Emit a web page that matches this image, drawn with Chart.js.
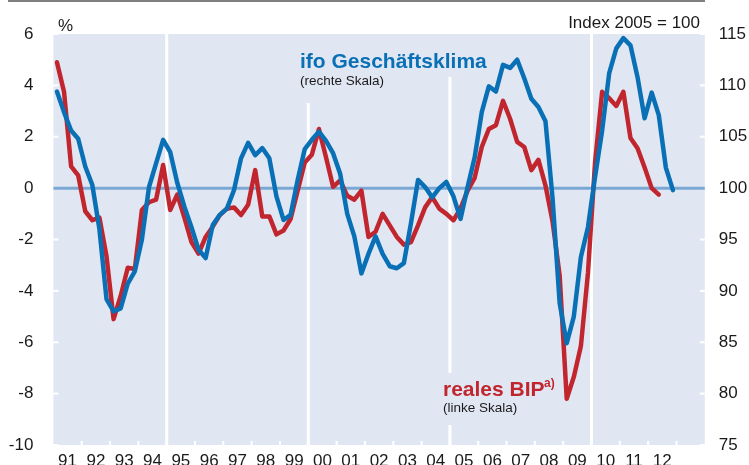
<!DOCTYPE html>
<html lang="de">
<head>
<meta charset="utf-8">
<title>ifo Geschäftsklima und reales BIP</title>
<script src="https://cdn.jsdelivr.net/npm/chart.js@4.4.1/dist/chart.umd.min.js"></script>
<style>
  html, body { margin: 0; padding: 0; background: #fff; }
  #box { width: 749px; height: 465px; }
</style>
</head>
<body>
<div id="box"><canvas id="grafik" width="749" height="465"></canvas></div>
<script>
// Beschriftung der x-Achse (Jahre)
const jahre = ["91", "92", "93", "94", "95", "96", "97", "98", "99", "00", "01",
               "02", "03", "04", "05", "06", "07", "08", "09", "10", "11", "12"];

// reales BIP, Veränderung ggü. Vorjahr in % (linke Skala), Quartale ab 1991 Q1
const bip = [
   4.9,  3.75,  0.85,  0.5,  -0.9, -1.25, -1.15, -2.65,
  -5.1, -4.2,  -3.1,  -3.15, -0.85, -0.55, -0.45,  0.9,
  -0.85, -0.25, -1.15, -2.1, -2.55, -1.9,  -1.5,  -1.05,
  -0.8, -0.75, -1.05, -0.65,  0.7, -1.1,  -1.1,  -1.8,
  -1.65, -1.2, -0.1,   1.0,   1.3,  2.3,   1.2,   0.05,
   0.3, -0.3,  -0.45, -0.1, -1.9, -1.7,  -1.0,  -1.45,
  -1.9, -2.2,  -2.1, -1.45, -0.75, -0.35, -0.8,  -1.0,
  -1.25, -0.8, -0.1,  0.4,   1.6,  2.3,   2.45,  3.4,
   2.7,  1.8,   1.6,  0.7,   1.1,  0.1,  -1.3,  -3.4,
  -8.2, -7.35, -6.15, -3.3,  1.0,  3.75,  3.5,   3.2,
   3.75, 1.95,  1.55, 0.8,   0.0, -0.25
];

// ifo Geschäftsklima, Index 2005 = 100 (rechte Skala), Quartale ab 1991 Q1
const ifo = [
  109.4, 107.4, 105.6, 104.8, 102.1, 100.3,  96.0,  89.2,
   88.0,  88.3,  90.7,  91.9,  95.0, 100.1, 102.4, 104.7,
  103.5, 100.5,  98.2,  96.2,  94.0,  93.2,  96.4,  97.4,
   98.0,  99.8, 102.9, 104.4, 103.2, 103.9, 102.9,  99.2,
   96.9,  97.4, 100.8, 103.8, 104.7, 105.5, 104.6, 103.4,
  101.4,  97.5,  95.3,  91.7,  93.6,  95.3,  93.6,  92.4,
   92.2,  92.7,  96.6, 100.8, 100.1,  99.1, 100.0, 100.6,
   99.2,  97.0, 100.1, 103.0, 107.4, 109.9, 109.4, 112.0,
  111.7, 112.5, 110.7, 108.7, 107.9, 106.5,  99.0,  88.8,
   84.9,  87.5,  93.3,  96.2, 101.1, 105.6, 111.2, 113.6,
  114.6, 113.9, 110.8, 106.8, 109.3, 107.1, 102.0,  99.8
];

const linksTicks = [-10, -8, -6, -4, -2, 0, 2, 4, 6];
const rechtsTicks = [75, 80, 85, 90, 95, 100, 105, 110, 115];
const trennJahre = [1995, 2000, 2005, 2010];

const blau = "#0a70b6";
const rot = "#c1262e";
const flaeche = "#e0e7f3";
const schrift = "'Liberation Sans', Arial, sans-serif";

// Quartalswerte auf die Zeitachse legen (Quartalsmitte)
function quartale(werte) {
  return werte.map((v, i) => ({ x: 1991 + (i + 0.5) / 4, y: v }));
}

// Achsen ohne zusätzliche Randabstände
function ohneRand(scale) {
  scale.paddingTop = 0;
  scale.paddingBottom = 0;
  scale.paddingLeft = 0;
  scale.paddingRight = 0;
}

// Hintergrund, weiße Linien und Striche, Nulllinie, Texte
const rahmen = {
  id: "rahmen",
  beforeDraw(chart) {
    const { ctx, chartArea: a, scales } = chart;
    ctx.save();
    ctx.fillStyle = "#7f7f7f";
    ctx.fillRect(8, 0, 697, 2);

    ctx.fillStyle = flaeche;
    ctx.fillRect(a.left, a.top, a.right - a.left, a.bottom - a.top);

    ctx.fillStyle = "#ffffff";
    for (let j = 1992; j < 2014; j++) {
      const px = scales.x.getPixelForValue(j);
      ctx.fillRect(px - 1, a.bottom - 4, 2, 4);
    }
    linksTicks.forEach(v => {
      const py = scales.y.getPixelForValue(v);
      ctx.fillRect(a.left, py - 1, 5, 2);
    });
    rechtsTicks.forEach(v => {
      const py = scales.y1.getPixelForValue(v);
      ctx.fillRect(a.right - 5, py - 1, 5, 2);
    });
    trennJahre.forEach(j => {
      const px = scales.x.getPixelForValue(j);
      ctx.fillRect(px - 1.5, a.top, 3, a.bottom - a.top);
    });

    // Freistellung hinter den Beschriftungen
    ctx.fillStyle = flaeche;
    ctx.fillRect(296, a.top, 196, 43);
    ctx.fillRect(296, a.top, 94, 69);
    ctx.fillRect(438, 373, 122, 52);
    ctx.restore();
  },
  beforeDatasetsDraw(chart) {
    const { ctx, chartArea: a, scales } = chart;
    const py = scales.y.getPixelForValue(0);
    ctx.save();
    ctx.strokeStyle = "#7ba7d3";
    ctx.lineWidth = 3;
    ctx.beginPath();
    ctx.moveTo(a.left, py);
    ctx.lineTo(a.right, py);
    ctx.stroke();
    ctx.restore();
  },
  afterDraw(chart) {
    const { ctx } = chart;
    ctx.save();
    ctx.textBaseline = "alphabetic";
    ctx.fillStyle = "#1a1a1a";
    ctx.font = "17px " + schrift;
    ctx.textAlign = "left";
    ctx.fillText("%", 58, 31);
    ctx.textAlign = "right";
    ctx.fillText("Index 2005 = 100", 700, 28);

    ctx.textAlign = "left";
    ctx.fillStyle = blau;
    ctx.font = "bold 21px " + schrift;
    ctx.fillText("ifo Geschäftsklima", 300, 68);
    ctx.fillStyle = "#1a1a1a";
    ctx.font = "13.5px " + schrift;
    ctx.fillText("(rechte Skala)", 300, 85);

    ctx.fillStyle = rot;
    ctx.font = "bold 21px " + schrift;
    ctx.fillText("reales BIP", 443, 396);
    ctx.font = "bold 12px " + schrift;
    ctx.fillText("a)", 544, 387);
    ctx.fillStyle = "#1a1a1a";
    ctx.font = "13.5px " + schrift;
    ctx.fillText("(linke Skala)", 443, 412);
    ctx.restore();
  }
};

const ctx = document.getElementById("grafik").getContext("2d");

new Chart(ctx, {
  type: "line",
  data: {
    datasets: [
      {
        label: "ifo Geschäftsklima",
        data: quartale(ifo),
        yAxisID: "y1",
        borderColor: blau,
        borderWidth: 4.5,
        pointRadius: 0,
        tension: 0,
        borderJoinStyle: "round",
        borderCapStyle: "round"
      },
      {
        label: "reales BIP",
        data: quartale(bip),
        yAxisID: "y",
        borderColor: rot,
        borderWidth: 4.5,
        pointRadius: 0,
        tension: 0,
        borderJoinStyle: "round",
        borderCapStyle: "round"
      }
    ]
  },
  options: {
    responsive: false,
    animation: false,
    events: [],
    layout: { padding: { top: 34, left: 0, right: 0, bottom: 0 } },
    plugins: {
      legend: { display: false },
      tooltip: { enabled: false }
    },
    scales: {
      x: {
        type: "linear",
        min: 1991,
        max: 2014,
        grid: { display: false, drawTicks: false, tickLength: 0 },
        border: { display: false },
        afterBuildTicks: scale => {
          scale.ticks = jahre.map((j, i) => ({ value: 1991.5 + i }));
        },
        afterFit: scale => { scale.height = 20; ohneRand(scale); },
        ticks: {
          autoSkip: false,
          maxRotation: 0,
          padding: 6,
          color: "#1a1a1a",
          font: { family: schrift, size: 17 },
          callback: (v, i) => jahre[i]
        }
      },
      y: {
        position: "left",
        min: -10,
        max: 6,
        grid: { display: false, drawTicks: false, tickLength: 0 },
        border: { display: false },
        afterBuildTicks: scale => {
          scale.ticks = linksTicks.map(v => ({ value: v }));
        },
        afterFit: scale => { scale.width = 53.4; ohneRand(scale); },
        ticks: {
          padding: 20,
          color: "#1a1a1a",
          font: { family: schrift, size: 17 }
        }
      },
      y1: {
        position: "right",
        min: 75,
        max: 115,
        grid: { display: false, drawTicks: false, tickLength: 0 },
        border: { display: false },
        afterBuildTicks: scale => {
          scale.ticks = rechtsTicks.map(v => ({ value: v }));
        },
        afterFit: scale => { scale.width = 44.2; ohneRand(scale); },
        ticks: {
          padding: 14,
          color: "#1a1a1a",
          font: { family: schrift, size: 17 }
        }
      }
    }
  },
  plugins: [rahmen]
});
</script>
</body>
</html>
